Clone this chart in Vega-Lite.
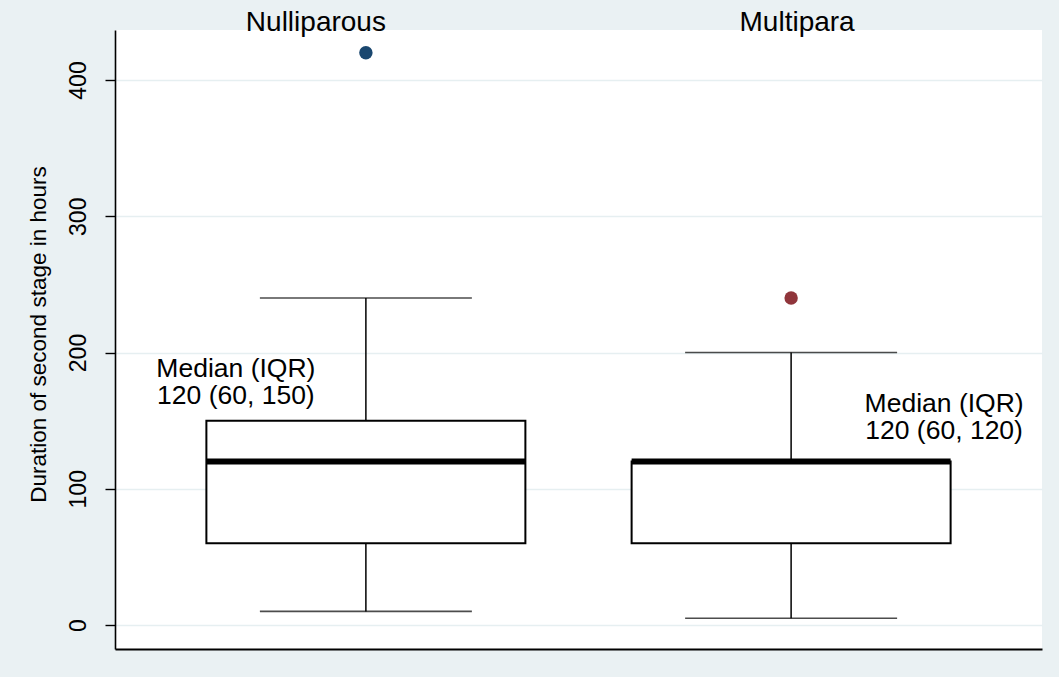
{
  "$schema": "https://vega.github.io/schema/vega-lite/v6.json",
  "autosize": {"type": "none"},
  "width": 927,
  "height": 619,
  "padding": {"left": 115, "top": 30, "right": 17, "bottom": 28},
  "background": "#EAF1F3",
  "config": {
    "view": {"fill": "white", "stroke": null},
    "font": "Liberation Sans"
  },
  "datasets": {
    "boxes": [
      {"group": "Nulliparous", "lower": 10, "q1": 60, "median": 120, "q3": 150, "upper": 240},
      {"group": "Multipara", "lower": 5, "q1": 60, "median": 120, "q3": 120, "upper": 200}
    ],
    "outliers": [
      {"group": "Nulliparous", "value": 420},
      {"group": "Multipara", "value": 240}
    ],
    "notes": [
      {"group": "Nulliparous", "label": "Median (IQR)\n120 (60, 150)", "y": 182},
      {"group": "Multipara", "label": "Median (IQR)\n120 (60, 120)", "y": 156}
    ]
  },
  "resolve": {"scale": {"x": "shared"}, "axis": {"x": "independent"}},
  "layer": [
    {
      "data": {"name": "boxes"},
      "mark": {"type": "bar", "size": 319, "fill": "white", "stroke": "black", "strokeWidth": 2},
      "encoding": {
        "x": {
          "field": "group", "type": "nominal", "sort": ["Nulliparous", "Multipara"],
          "scale": {"type": "band", "paddingInner": 0, "paddingOuter": 0.09},
          "axis": {
            "orient": "top", "title": null, "domain": false, "ticks": false,
            "labelFontSize": 28, "labelPadding": 0, "labelBaseline": "alphabetic",
            "labelAngle": 0, "labelColor": "black",
            "labelOffset": {"expr": "datum.value === 'Nulliparous' ? -50 : 6"}
          }
        },
        "y": {
          "field": "q1", "type": "quantitative",
          "scale": {"domain": [-17.6, 436.7], "nice": false, "zero": false},
          "axis": {"title": "Duration of second stage in hours", "values": [0, 100, 200, 300, 400], "labelAngle": -90, "labelFontSize": 23, "titleFontSize": 22.5, "titleFontWeight": "normal", "tickSize": 10, "tickColor": "black", "tickWidth": 1.4, "domain": true, "domainColor": "black", "domainWidth": 1.6, "grid": true, "gridColor": "#E6EFF1", "gridWidth": 1.5, "labelColor": "black", "titleColor": "black", "labelPadding": 15, "titlePadding": 17, "titleY": 304}
        },
        "y2": {"field": "q3"}
      }
    },
    {
      "data": {"name": "boxes"},
      "mark": {"type": "rule", "color": "black", "strokeWidth": 1.5},
      "encoding": {
        "x": {
          "field": "group", "type": "nominal", "sort": ["Nulliparous", "Multipara"],
          "scale": {"type": "band", "paddingInner": 0, "paddingOuter": 0.09},
          "axis": {
            "orient": "bottom", "title": null, "labels": false, "ticks": false,
            "domain": true, "domainColor": "black", "domainWidth": 2
          }
        },
        "y": {"field": "lower", "type": "quantitative",
          "axis": {"title": "Duration of second stage in hours", "values": [0, 100, 200, 300, 400], "labelAngle": -90, "labelFontSize": 23, "titleFontSize": 22.5, "titleFontWeight": "normal", "tickSize": 10, "tickColor": "black", "tickWidth": 1.4, "domain": true, "domainColor": "black", "domainWidth": 1.6, "grid": true, "gridColor": "#E6EFF1", "gridWidth": 1.5, "labelColor": "black", "titleColor": "black", "labelPadding": 15, "titlePadding": 17, "titleY": 304}},
        "y2": {"field": "q1"}
      }
    },
    {
      "data": {"name": "boxes"},
      "mark": {"type": "rule", "color": "black", "strokeWidth": 1.5},
      "encoding": {
        "x": {"field": "group", "type": "nominal", "sort": ["Nulliparous", "Multipara"], "scale": {"type": "band"}, "axis": null},
        "y": {"field": "q3", "type": "quantitative",
          "axis": {"title": "Duration of second stage in hours", "values": [0, 100, 200, 300, 400], "labelAngle": -90, "labelFontSize": 23, "titleFontSize": 22.5, "titleFontWeight": "normal", "tickSize": 10, "tickColor": "black", "tickWidth": 1.4, "domain": true, "domainColor": "black", "domainWidth": 1.6, "grid": true, "gridColor": "#E6EFF1", "gridWidth": 1.5, "labelColor": "black", "titleColor": "black", "labelPadding": 15, "titlePadding": 17, "titleY": 304}},
        "y2": {"field": "upper"}
      }
    },
    {
      "data": {"name": "boxes"},
      "mark": {"type": "tick", "color": "black", "size": 212, "thickness": 1.6},
      "encoding": {
        "x": {"field": "group", "type": "nominal", "sort": ["Nulliparous", "Multipara"], "scale": {"type": "band"}, "axis": null},
        "y": {"field": "lower", "type": "quantitative",
          "axis": {"title": "Duration of second stage in hours", "values": [0, 100, 200, 300, 400], "labelAngle": -90, "labelFontSize": 23, "titleFontSize": 22.5, "titleFontWeight": "normal", "tickSize": 10, "tickColor": "black", "tickWidth": 1.4, "domain": true, "domainColor": "black", "domainWidth": 1.6, "grid": true, "gridColor": "#E6EFF1", "gridWidth": 1.5, "labelColor": "black", "titleColor": "black", "labelPadding": 15, "titlePadding": 17, "titleY": 304}}
      }
    },
    {
      "data": {"name": "boxes"},
      "mark": {"type": "tick", "color": "black", "size": 212, "thickness": 1.6},
      "encoding": {
        "x": {"field": "group", "type": "nominal", "sort": ["Nulliparous", "Multipara"], "scale": {"type": "band"}, "axis": null},
        "y": {"field": "upper", "type": "quantitative",
          "axis": {"title": "Duration of second stage in hours", "values": [0, 100, 200, 300, 400], "labelAngle": -90, "labelFontSize": 23, "titleFontSize": 22.5, "titleFontWeight": "normal", "tickSize": 10, "tickColor": "black", "tickWidth": 1.4, "domain": true, "domainColor": "black", "domainWidth": 1.6, "grid": true, "gridColor": "#E6EFF1", "gridWidth": 1.5, "labelColor": "black", "titleColor": "black", "labelPadding": 15, "titlePadding": 17, "titleY": 304}}
      }
    },
    {
      "data": {"name": "boxes"},
      "mark": {"type": "tick", "color": "black", "size": 319, "thickness": 6, "opacity": 1},
      "encoding": {
        "x": {"field": "group", "type": "nominal", "sort": ["Nulliparous", "Multipara"], "scale": {"type": "band"}, "axis": null},
        "y": {"field": "median", "type": "quantitative",
          "axis": {"title": "Duration of second stage in hours", "values": [0, 100, 200, 300, 400], "labelAngle": -90, "labelFontSize": 23, "titleFontSize": 22.5, "titleFontWeight": "normal", "tickSize": 10, "tickColor": "black", "tickWidth": 1.4, "domain": true, "domainColor": "black", "domainWidth": 1.6, "grid": true, "gridColor": "#E6EFF1", "gridWidth": 1.5, "labelColor": "black", "titleColor": "black", "labelPadding": 15, "titlePadding": 17, "titleY": 304}}
      }
    },
    {
      "data": {"name": "outliers"},
      "mark": {"type": "circle", "size": 180, "opacity": 1},
      "encoding": {
        "x": {"field": "group", "type": "nominal", "sort": ["Nulliparous", "Multipara"], "scale": {"type": "band"}, "axis": null},
        "y": {"field": "value", "type": "quantitative",
          "axis": {"title": "Duration of second stage in hours", "values": [0, 100, 200, 300, 400], "labelAngle": -90, "labelFontSize": 23, "titleFontSize": 22.5, "titleFontWeight": "normal", "tickSize": 10, "tickColor": "black", "tickWidth": 1.4, "domain": true, "domainColor": "black", "domainWidth": 1.6, "grid": true, "gridColor": "#E6EFF1", "gridWidth": 1.5, "labelColor": "black", "titleColor": "black", "labelPadding": 15, "titlePadding": 17, "titleY": 304}},
        "color": {
          "field": "group", "type": "nominal",
          "scale": {"domain": ["Nulliparous", "Multipara"], "range": ["#1A476F", "#90353B"]},
          "legend": null
        }
      }
    },
    {
      "data": {"name": "notes"},
      "transform": [{"filter": "datum.group === 'Nulliparous'"}],
      "mark": {"type": "text", "fontSize": 26.5, "lineBreak": "\n", "lineHeight": 27, "align": "center", "baseline": "alphabetic", "dx": -130, "color": "black"},
      "encoding": {
        "x": {"field": "group", "type": "nominal", "sort": ["Nulliparous", "Multipara"], "scale": {"type": "band"}, "axis": null},
        "y": {"field": "y", "type": "quantitative",
          "axis": {"title": "Duration of second stage in hours", "values": [0, 100, 200, 300, 400], "labelAngle": -90, "labelFontSize": 23, "titleFontSize": 22.5, "titleFontWeight": "normal", "tickSize": 10, "tickColor": "black", "tickWidth": 1.4, "domain": true, "domainColor": "black", "domainWidth": 1.6, "grid": true, "gridColor": "#E6EFF1", "gridWidth": 1.5, "labelColor": "black", "titleColor": "black", "labelPadding": 15, "titlePadding": 17, "titleY": 304}},
        "text": {"field": "label"}
      }
    },
    {
      "data": {"name": "notes"},
      "transform": [{"filter": "datum.group === 'Multipara'"}],
      "mark": {"type": "text", "fontSize": 26.5, "lineBreak": "\n", "lineHeight": 27, "align": "center", "baseline": "alphabetic", "dx": 153, "color": "black"},
      "encoding": {
        "x": {"field": "group", "type": "nominal", "sort": ["Nulliparous", "Multipara"], "scale": {"type": "band"}, "axis": null},
        "y": {"field": "y", "type": "quantitative",
          "axis": {"title": "Duration of second stage in hours", "values": [0, 100, 200, 300, 400], "labelAngle": -90, "labelFontSize": 23, "titleFontSize": 22.5, "titleFontWeight": "normal", "tickSize": 10, "tickColor": "black", "tickWidth": 1.4, "domain": true, "domainColor": "black", "domainWidth": 1.6, "grid": true, "gridColor": "#E6EFF1", "gridWidth": 1.5, "labelColor": "black", "titleColor": "black", "labelPadding": 15, "titlePadding": 17, "titleY": 304}},
        "text": {"field": "label"}
      }
    }
  ]
}
